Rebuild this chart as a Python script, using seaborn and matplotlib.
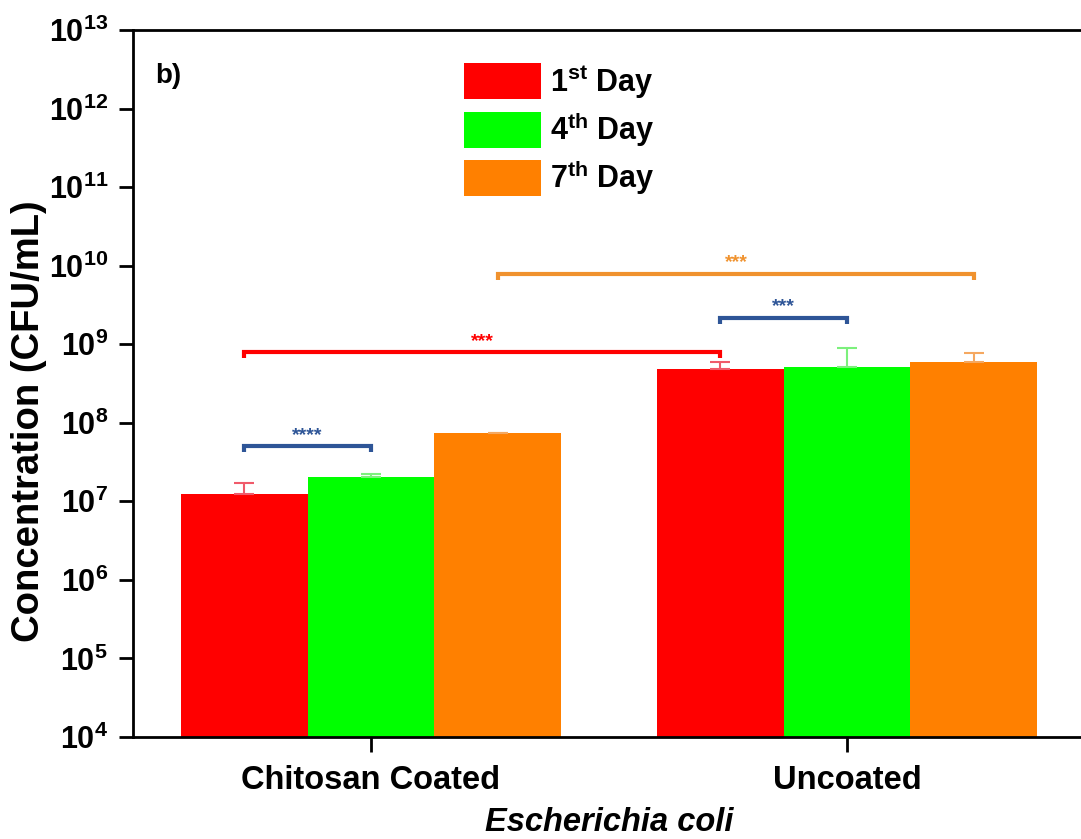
import numpy as np
import pandas as pd
import matplotlib
matplotlib.use("Agg")
import matplotlib.pyplot as plt
import seaborn as sns

# ---------------- data ----------------
groups = ["Chitosan Coated", "Uncoated"]
days = [r"$\mathbf{1^{st}}$ Day", r"$\mathbf{4^{th}}$ Day", r"$\mathbf{7^{th}}$ Day"]
day1_vals = [1.24e7, 4.8e8]
day4_vals = [2.05e7, 5.1e8]
day7_vals = [7.4e7, 5.9e8]
day1_err = [0.46e7, 1.2e8]
day4_err = [0.15e7, 3.8e8]
day7_err = [0.1e7, 1.9e8]
ytick_vals = [1e4, 1e5, 1e6, 1e7, 1e8, 1e9, 1e10, 1e11, 1e12, 1e13]
ytick_labels = [r"$\mathbf{10^{%d}}$" % e for e in range(4, 14)]
# significance comparisons: (hue a, group a, hue b, group b, level, label)
comparisons = [
    (0, 0, 1, 0, 5.0e7, "****"),
    (0, 0, 0, 1, 7.9e8, "***"),
    (0, 1, 1, 1, 2.15e9, "***"),
    (2, 0, 2, 1, 7.8e9, "***"),
]

palette = ["#FF0000", "#00FF00", "#FF8000"]
err_colors = ["#F05A6A", "#7CF07C", "#F5A860"]
comp_colors = ["#2E5597", "#FF0000", "#2E5597", "#F0922E"]

plt.rcParams["font.family"] = ["Liberation Sans", "DejaVu Sans"]
plt.rcParams["font.weight"] = "bold"
plt.rcParams["mathtext.fontset"] = "custom"
plt.rcParams["mathtext.rm"] = "Liberation Sans:bold"
plt.rcParams["mathtext.bf"] = "Liberation Sans:bold"
plt.rcParams["mathtext.it"] = "Liberation Sans:bold:italic"

df = pd.DataFrame({
    "group": groups * 3,
    "day": [days[0]] * 2 + [days[1]] * 2 + [days[2]] * 2,
    "value": day1_vals + day4_vals + day7_vals,
})
errs = [day1_err, day4_err, day7_err]

fig = plt.figure(figsize=(10.81, 8.39), dpi=100)
ax = fig.add_axes([133 / 1081, 102 / 839, 952 / 1081, 707 / 839])
ax.set_yscale("log")
sns.barplot(data=df, x="group", y="value", hue="day", order=groups, hue_order=days,
            palette=palette, saturation=1, errorbar=None, width=0.8, linewidth=0, ax=ax)
ax.set_ylim(1e4, 1e13)
ax.set_xlim(-0.5, 1.5)
bar_conts = list(ax.containers)

# error bars (upper only)
for h, cont in enumerate(bar_conts):
    xs = [b.get_x() + b.get_width() / 2 for b in cont]
    ys = [b.get_y() + b.get_height() for b in cont]
    ax.errorbar(xs, ys, yerr=[np.zeros(len(xs)), errs[h]], fmt="none",
                ecolor=err_colors[h], elinewidth=1.5, capsize=7, capthick=1.5, zorder=3)

# significance brackets
def center(h, g):
    b = bar_conts[h][g]
    return b.get_x() + b.get_width() / 2

for (ha, ga, hb, gb, lvl, lab), col in zip(comparisons, comp_colors):
    x1, x2 = center(ha, ga), center(hb, gb)
    ax.plot([x1, x1, x2, x2], [lvl * 0.84, lvl, lvl, lvl * 0.84], color=col, lw=3,
            solid_capstyle="butt", solid_joinstyle="miter", zorder=4)
    ax.text((x1 + x2) / 2, lvl * 1.08, lab, color=col, ha="center", va="bottom",
            fontsize=14, fontweight="bold")

ax.set_yticks(ytick_vals)
ax.set_yticklabels(ytick_labels)
ax.minorticks_off()
ax.tick_params(axis="y", which="major", direction="out", length=10, width=2, pad=8, labelsize=22)
ax.tick_params(axis="x", which="major", direction="out", length=11, width=2, pad=9, labelsize=23.5)
for lab in ax.get_xticklabels():
    lab.set_fontweight("bold")
for s in ["left", "bottom", "top"]:
    ax.spines[s].set_linewidth(2)
    ax.spines[s].set_color("black")
ax.spines["right"].set_visible(False)

ax.set_ylabel("Concentration (CFU/mL)", fontsize=27.5, fontweight="bold")
ax.yaxis.set_label_coords(-0.109, 0.447)
ax.yaxis.label.set_va("center")
ax.set_xlabel("Escherichia coli", fontsize=23.5, fontweight="bold", fontstyle="italic")
ax.xaxis.set_label_coords(0.5, -0.099)

ax.text(0.023, 0.953, "b)", transform=ax.transAxes, fontsize=20, fontweight="bold",
        ha="left", va="top")

handles, labels = ax.get_legend_handles_labels()
ax.legend(handles, labels, loc="upper left", bbox_to_anchor=(0.332, 0.975), frameon=False,
          handlelength=2.5, handleheight=1.43, labelspacing=0.30,
          handletextpad=0.30, borderpad=0, prop={"weight": "bold", "size": 22})

fig.savefig("out.png", dpi=100)
